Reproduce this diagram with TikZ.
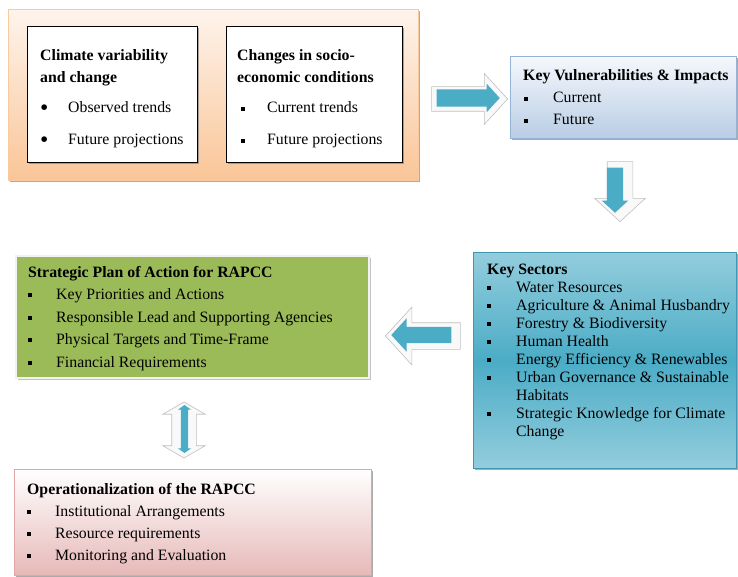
\documentclass[tikz,border=0pt]{standalone}
\usepackage{fontspec}
\setmainfont{Liberation Serif}
\usetikzlibrary{shapes.arrows,shadows}
\definecolor{peachtop}{HTML}{FEF4EC}
\definecolor{peachbot}{HTML}{FAC597}
\definecolor{peachline}{HTML}{F9C9A0}
\definecolor{bluetop}{HTML}{F5F8FC}
\definecolor{bluebot}{HTML}{B9CDE5}
\definecolor{blueline}{HTML}{95B3D7}
\definecolor{tealtop}{HTML}{93CDDD}
\definecolor{tealmid}{HTML}{4BACC6}
\definecolor{tealline}{HTML}{3F98B0}
\definecolor{planfill}{HTML}{9BBB59}
\definecolor{pinkbot}{HTML}{E6B9B8}
\definecolor{pinkline}{HTML}{E0A6A5}
\definecolor{arrowteal}{HTML}{4BACC6}
\newcommand{\sqb}[2]{\makebox[#1][l]{\hspace{#2}\rule[2.2pt]{4.2pt}{4.2pt}}}
\newcommand{\rdb}[2]{\makebox[#1][l]{\hspace{#2}\raisebox{-2.3pt}{\scalebox{1.5}{\textbullet}}}}
\begin{document}
\begin{tikzpicture}[x=1pt,y=-1pt]
    \tikzstyle{card} = [rectangle, anchor=north west, inner sep=0pt, line width=0.8pt]
    \tikzstyle{shade} = [drop shadow={shadow xshift=1.5pt, shadow yshift=-2pt, fill=black!55, opacity=0.6}]
    \tikzstyle{txt} = [anchor=base west, inner sep=0pt]
    \tikzstyle{bevel} = [single arrow, single arrow tip angle=95, fill=gray!5, draw=gray!50, line width=0.6pt, anchor=tip]
    \tikzstyle{flow} = [single arrow, single arrow tip angle=95, fill=arrowteal, anchor=tip]

    \useasboundingbox (0,0) rectangle (738,577);

    \node(drivers) [card, shade, top color=peachtop, bottom color=peachbot, draw=peachline,
      minimum width=410pt, minimum height=171pt] at (8,9) {};
    \node(climate) [card, shade, fill=white, draw=black, minimum width=170pt, minimum height=136pt] at (27,26) {};
    \node(socio) [card, shade, fill=white, draw=black, minimum width=176pt, minimum height=136pt] at (226,26) {};

    \node(vuln) [card, shade, top color=bluetop, bottom color=bluebot, draw=blueline,
      minimum width=226pt, minimum height=82pt] at (510,56) {};
    \node(sectors) [card, shade, top color=tealtop, bottom color=tealtop, middle color=tealmid, draw=tealline,
      minimum width=263pt, minimum height=216pt] at (473,252) {};
    \node(plan) [card, drop shadow={shadow xshift=1.5pt, shadow yshift=-1.5pt, fill=black!40, opacity=0.6},
      fill=planfill, draw=gray!10, line width=2pt, minimum width=353pt, minimum height=122pt] at (15,255) {};
    \node(ops) [card, shade, top color=white, bottom color=pinkbot, draw=pinkline,
      minimum width=357pt, minimum height=106pt] at (14,469) {};

    \node(climtxt) [txt, font=\fontsize{15.8}{22}\selectfont] at (40,61) {\begin{tabular}[t]{@{}l@{}}
      \textbf{Climate variability}\\
      \textbf{and change}\\[8pt]
      \rdb{28pt}{0pt}Observed trends\\[10pt]
      \rdb{28pt}{0pt}Future projections
    \end{tabular}};
    \node(sociotxt) [txt, font=\fontsize{15.8}{22}\selectfont] at (237,61) {\begin{tabular}[t]{@{}l@{}}
      \textbf{Changes in socio-}\\
      \textbf{economic conditions}\\[8pt]
      \sqb{30pt}{3.5pt}Current trends\\[10pt]
      \sqb{30pt}{3.5pt}Future projections
    \end{tabular}};
    \node(vulntxt) [txt, font=\fontsize{15.8}{22}\selectfont] at (523,81) {\begin{tabular}[t]{@{}l@{}}
      \textbf{Key Vulnerabilities \& Impacts}\\
      \sqb{30pt}{1pt}Current\\
      \sqb{30pt}{1pt}Future
    \end{tabular}};
    \node(sectorstxt) [txt, font=\fontsize{15.8}{18}\selectfont] at (487,274) {\begin{tabular}[t]{@{}l@{}}
      \textbf{Key Sectors}\\
      \sqb{29pt}{0pt}Water Resources\\
      \sqb{29pt}{0pt}Agriculture \& Animal Husbandry\\
      \sqb{29pt}{0pt}Forestry \& Biodiversity\\
      \sqb{29pt}{0pt}Human Health\\
      \sqb{29pt}{0pt}Energy Efficiency \& Renewables\\
      \sqb{29pt}{0pt}Urban Governance \& Sustainable\\
      \hspace{29pt}Habitats\\
      \sqb{29pt}{0pt}Strategic Knowledge for Climate\\
      \hspace{29pt}Change
    \end{tabular}};
    \node(plantxt) [txt, font=\fontsize{15.8}{22.5}\selectfont] at (28,277) {\begin{tabular}[t]{@{}l@{}}
      \textbf{Strategic Plan of Action for RAPCC}\\
      \sqb{28pt}{0pt}Key Priorities and Actions\\
      \sqb{28pt}{0pt}Responsible Lead and Supporting Agencies\\
      \sqb{28pt}{0pt}Physical Targets and Time-Frame\\
      \sqb{28pt}{0pt}Financial Requirements
    \end{tabular}};
    \node(opstxt) [txt, font=\fontsize{15.8}{22}\selectfont] at (27,494) {\begin{tabular}[t]{@{}l@{}}
      \textbf{Operationalization of the RAPCC}\\
      \sqb{28pt}{0pt}Institutional Arrangements\\
      \sqb{28pt}{0pt}Resource requirements\\
      \sqb{28pt}{0pt}Monitoring and Evaluation
    \end{tabular}};

    \node(toright) [bevel, inner sep=12pt, minimum height=76pt, minimum width=50pt,
      single arrow head extend=13pt] at (508,99) {};
    \node(torightin) [flow, inner sep=8.5pt, minimum height=63pt, minimum width=28pt,
      single arrow head extend=5.5pt] at (500,98) {};

    \node(todown) [bevel, rotate=-90, inner sep=12.5pt, minimum height=60pt, minimum width=50pt,
      single arrow head extend=12.5pt] at (620,222) {};
    \node(todownin) [flow, rotate=-90, inner sep=8pt, minimum height=45pt, minimum width=26pt,
      single arrow head extend=5pt] at (615,213) {};

    \node(toleft) [bevel, rotate=180, inner sep=13pt, minimum height=75pt, minimum width=57pt,
      single arrow head extend=15.5pt] at (385,336) {};
    \node(toleftin) [flow, rotate=180, inner sep=8pt, minimum height=60pt, minimum width=33pt,
      single arrow head extend=8.5pt] at (391,335) {};

    \node(both) [double arrow, double arrow tip angle=120, rotate=90, fill=gray!5, draw=gray!50, line width=0.6pt,
      inner sep=12pt, minimum height=56pt, minimum width=42pt, double arrow head extend=9pt] at (184,430) {};
    \node(bothin) [double arrow, double arrow tip angle=110, rotate=90, fill=arrowteal,
      inner sep=3.5pt, minimum height=48pt, minimum width=13pt, double arrow head extend=3pt] at (184.5,429) {};
\end{tikzpicture}
\end{document}
